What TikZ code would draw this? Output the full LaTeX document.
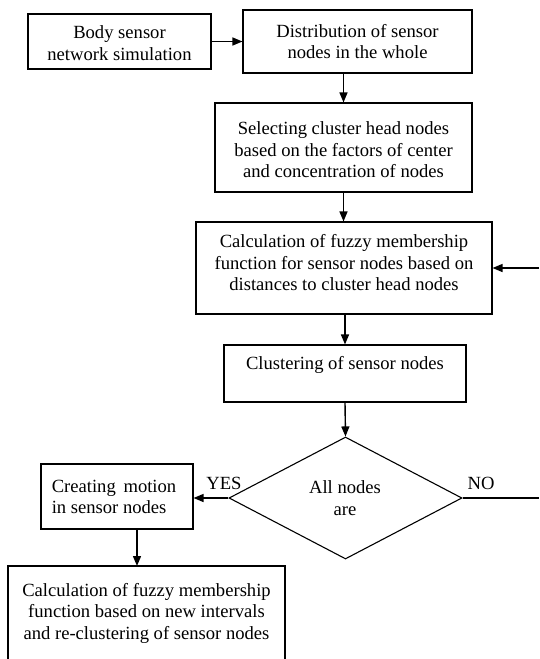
\documentclass[tikz,border=0pt]{standalone}
\usepackage{fontspec}
\setmainfont{Liberation Serif}
\usetikzlibrary{arrows.meta,shapes.geometric}
\begin{document}
\begin{tikzpicture}[x=1pt,y=-1pt,
  box/.style={draw,line width=1.1pt,rectangle,inner sep=0pt},
  txt/.style={inner sep=0pt,align=center,font=\fontsize{18.6}{21.5}\selectfont},
  flow/.style={line width=1.4pt,-{Triangle[length=10pt,width=8pt]}},
  plain/.style={line width=1.4pt}]
\useasboundingbox (0,0) rectangle (539,659);
\fill[white] (0,0) rectangle (539,659);
% boxes
\node[box,minimum width=183pt,minimum height=55pt] (b1) at (119.5,41.5) {};
\node[txt] (t1) at (119.5,43) {Body sensor\\network simulation};
\node[box,minimum width=229pt,minimum height=63pt] (b2) at (357.5,41.5) {};
\node[txt] (t2) at (357.5,41.5) {Distribution of sensor\\nodes in the whole};
\node[box,minimum width=257pt,minimum height=89pt] (b3) at (343.5,147.5) {};
\node[txt] (t3) at (343.5,150) {Selecting cluster head nodes\\based on the factors of center\\and concentration of nodes};
\node[box,minimum width=296pt,minimum height=92pt] (b4) at (344,268) {};
\node[txt] (t4) at (344,263) {Calculation of fuzzy membership\\function for sensor nodes based on\\distances to cluster head nodes};
\node[box,minimum width=242pt,minimum height=57pt] (b5) at (345,373.5) {};
\node[txt] (t5) at (345,365) {Clustering of sensor nodes};
\node[draw,line width=1.1pt,shape=diamond,inner sep=0pt,minimum width=233pt,minimum height=122pt] (d) at (345.5,498) {};
\node[txt] (td) at (345,498) {All nodes\\are};
\node[box,minimum width=152pt,minimum height=65pt] (b6) at (117,496.5) {};
\node[txt,align=left] (t6) at (114,497) {Creating\, motion\\in sensor nodes};
\coordinate (b7tl) at (8,566);
\coordinate (b7tr) at (285,566);
\draw[line width=1.1pt] (8,659) -- (b7tl) -- (b7tr) -- (285,659);
\node[inner sep=0pt,minimum width=277pt,minimum height=1pt,anchor=north] (b7) at (146.5,566) {};
\node[txt] (t7) at (146.5,613) {Calculation of fuzzy membership\\function based on new intervals\\and re-clustering of sensor nodes};
% labels
\node[txt] (yes) at (224,483) {YES};
\node[txt] (no) at (481,483) {NO};
% side coordinates
\coordinate (noend) at (539,498);
\coordinate (fbstart) at (539,268);
% connectors
\draw[flow] (b1.east) -- (b2.west);
\draw[flow] (b2.south -| b3.north) -- (b3.north);
\draw[flow] (b3.south) -- (b3.south |- b4.north);
\draw[flow] (b4.south -| b5.north) -- (b5.north);
\draw[flow] (b5.south) -- (d.north);
\draw[flow] (d.west) -- (d.west -| b6.east);
\draw[flow] (b6.south -| 137,0) -- (b7.north -| 137,0);
\draw[plain] (d.east) -- (noend);
\draw[flow] (fbstart) -- (b4.east |- fbstart);
\end{tikzpicture}
\end{document}
